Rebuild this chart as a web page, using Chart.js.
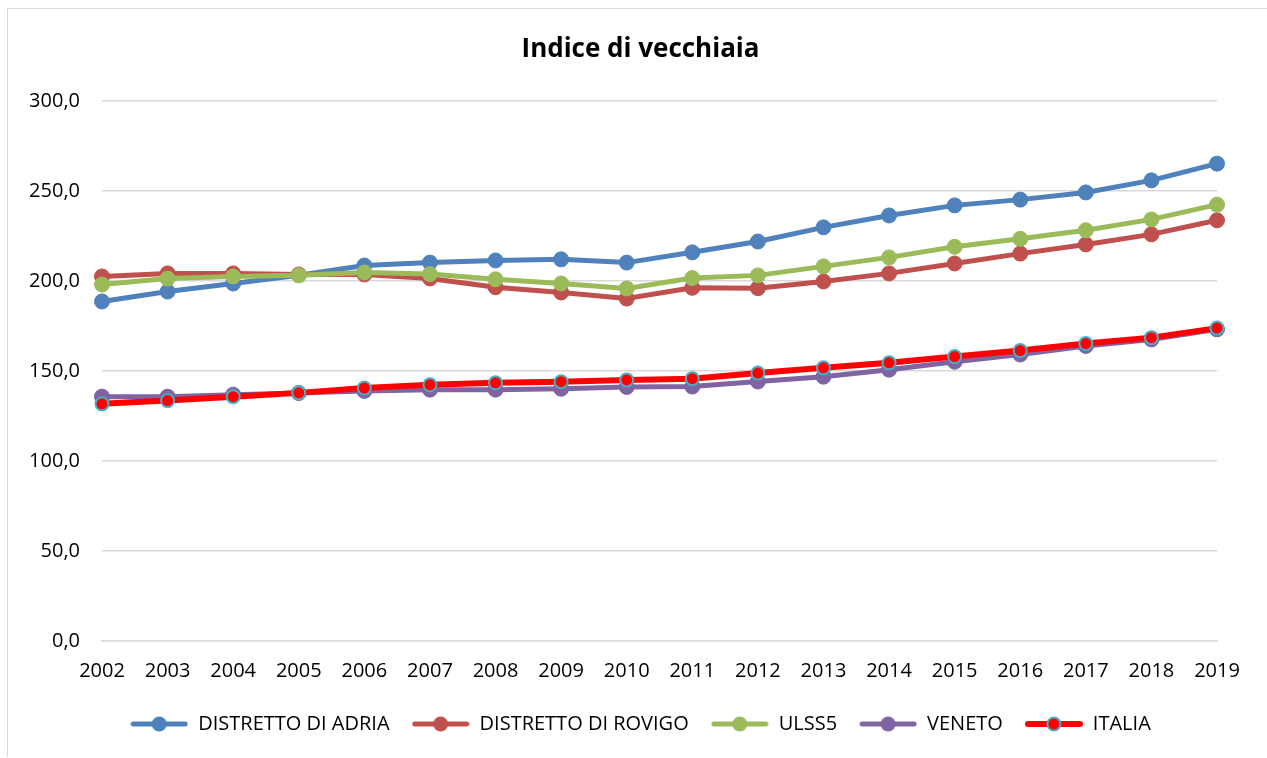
<!DOCTYPE html>
<html>
<head>
<meta charset="utf-8">
<script src="https://cdn.jsdelivr.net/npm/chart.js@4.4.1/dist/chart.umd.min.js"></script>
<style>
  body { margin: 0; background: #fff; }
  #wrap { position: relative; width: 1267px; height: 758px; }
  #frame { position: absolute; left: 7px; top: 8px; width: 1270px; height: 748px;
           border-left: 1px solid #d9d9d9; border-top: 1px solid #d9d9d9; }
  canvas { position: absolute; left: 0; top: 0; }
</style>
</head>
<body>
<div id="wrap">
  <div id="frame"></div>
  <canvas id="chart" width="1267" height="758"></canvas>
</div>
<script>
const anni = ['2002','2003','2004','2005','2006','2007','2008','2009','2010','2011','2012','2013','2014','2015','2016','2017','2018','2019'];
const adria  = [188.7,194.2,198.7,203.3,208.7,210.3,211.5,212.1,210.3,216.0,222.0,229.9,236.5,242.1,245.3,249.3,256.0,265.3];
const rovigo = [202.6,204.3,204.3,203.7,203.7,201.5,196.6,193.7,190.3,196.3,196.1,199.8,204.3,209.8,215.3,220.4,226.0,233.8];
const ulss5  = [198.1,201.4,202.6,203.3,204.8,203.9,201.0,198.7,195.9,201.7,203.2,208.2,213.2,219.1,223.5,228.3,234.3,242.5];
const veneto = [135.8,135.8,136.9,137.8,139.0,139.7,139.7,140.2,141.2,141.4,144.2,146.9,150.8,155.2,159.2,164.0,167.6,173.2];
const italia = [131.8,133.6,135.8,137.9,140.6,142.4,143.5,144.1,145.1,145.8,148.9,151.8,154.6,158.1,161.4,165.3,168.6,173.9];
const yTicks = [0,50,100,150,200,250,300];

const FONT = "'Open Sans', sans-serif";

function serie(label, data, colore, ordine) {
  return {
    label: label, data: data, borderColor: colore, backgroundColor: colore,
    borderWidth: 5, pointRadius: 7.5, pointHoverRadius: 7.5,
    pointBackgroundColor: colore, pointBorderColor: colore, pointBorderWidth: 1,
    tension: 0, order: ordine
  };
}

const italiaSet = serie('ITALIA', italia, '#ff0000', 1);
italiaSet.borderWidth = 6;
italiaSet.pointRadius = 6.5;
italiaSet.pointBorderColor = '#4bacc6';
italiaSet.pointBorderWidth = 2;

const datasets = [
  serie('DISTRETTO DI ADRIA', adria, '#4f81bd', 5),
  serie('DISTRETTO DI ROVIGO', rovigo, '#c0504d', 4),
  serie('ULSS5', ulss5, '#9bbb59', 3),
  serie('VENETO', veneto, '#8064a2', 2),
  italiaSet
];

// simbolo legenda: linea con pallino, come in Excel
function simbolo(ds) {
  const c = document.createElement('canvas');
  c.width = 58; c.height = 18;
  const g = c.getContext('2d');
  g.strokeStyle = ds.borderColor;
  g.lineWidth = ds.borderWidth;
  g.lineCap = 'round';
  g.beginPath(); g.moveTo(3, 9); g.lineTo(55, 9); g.stroke();
  g.beginPath(); g.arc(29, 9, ds.pointRadius, 0, Math.PI * 2);
  g.fillStyle = ds.pointBackgroundColor; g.fill();
  if (ds.pointBorderColor !== ds.pointBackgroundColor) {
    g.lineWidth = ds.pointBorderWidth; g.strokeStyle = ds.pointBorderColor; g.stroke();
  }
  return c;
}

new Chart(document.getElementById('chart').getContext('2d'), {
  type: 'line',
  data: { labels: anni, datasets: datasets },
  options: {
    responsive: false,
    animation: false,
    layout: { padding: { left: 14, right: 0, top: 0, bottom: 14 } },
    plugins: {
      title: {
        display: true, text: 'Indice di vecchiaia', color: '#000',
        font: { family: FONT, size: 26, weight: 'bold' },
        padding: { top: 34, bottom: 36 }
      },
      legend: {
        position: 'bottom',
        labels: {
          color: '#000', font: { family: FONT, size: 20 },
          usePointStyle: true, pointStyleWidth: 58, boxHeight: 18, padding: 22,
          generateLabels: function (chart) {
            const items = Chart.defaults.plugins.legend.labels.generateLabels(chart);
            items.sort((a, b) => a.datasetIndex - b.datasetIndex);
            items.forEach(it => { it.pointStyle = simbolo(chart.data.datasets[it.datasetIndex]); });
            return items;
          }
        }
      },
      tooltip: { enabled: false }
    },
    scales: {
      x: {
        offset: false,
        grid: { display: false, drawTicks: false },
        border: { color: '#d9d9d9', width: 1.5 },
        ticks: { color: '#000', font: { family: FONT, size: 20 }, padding: 18, maxRotation: 0, autoSkip: false },
        afterFit: s => { s.height = 51; }
      },
      y: {
        min: 0, max: 300,
        afterBuildTicks: s => { s.ticks = yTicks.map(v => ({ value: v })); },
        grid: { color: '#d9d9d9', lineWidth: 1.5, drawTicks: false },
        border: { display: false },
        ticks: {
          color: '#000', font: { family: FONT, size: 20 }, padding: 22,
          callback: v => v.toFixed(1).replace('.', ',')
        },
        afterFit: s => { s.width = 88; }
      },
      // asse vuoto a destra solo per lasciare il margine
      destra: {
        position: 'right', min: 0, max: 300,
        grid: { display: false, drawTicks: false },
        border: { display: false },
        ticks: { display: false },
        afterFit: s => { s.width = 50; }
      }
    }
  }
});
</script>
</body>
</html>
